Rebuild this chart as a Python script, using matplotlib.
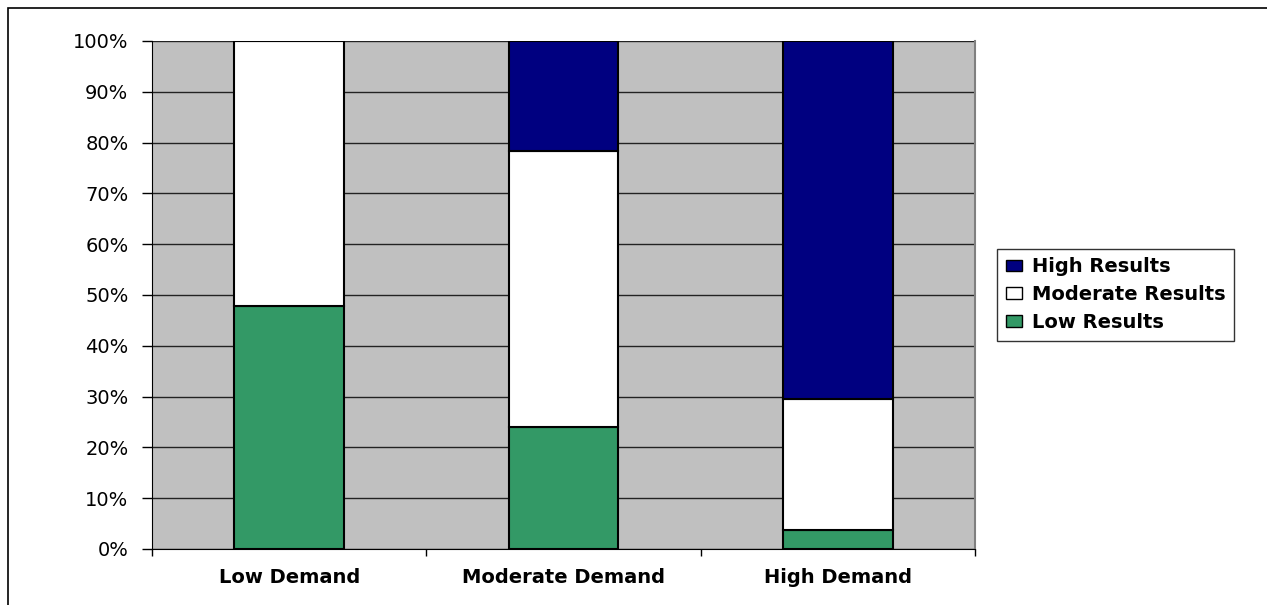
import numpy as np
from matplotlib import pyplot as plt
from matplotlib.patches import Rectangle
from matplotlib.ticker import FixedLocator, PercentFormatter

# Dados (percentual de cada nivel de resultado)
categorias = ['Low Demand', 'Moderate Demand', 'High Demand']
low_results = [47.8, 24.0, 3.7]
moderate_results = [52.2, 54.4, 25.8]
high_results = [0.0, 21.6, 70.5]

cor_low = '#339966'
cor_mod = '#FFFFFF'
cor_high = '#000080'

plt.rcParams['font.family'] = 'DejaVu Sans'

fig = plt.figure(figsize=(12.67, 6.05), dpi=100)
ax = fig.add_axes([152 / 1267, 1 - 549 / 605, (975 - 152) / 1267, (549 - 41) / 605])

x = np.arange(len(categorias))
largura = 0.4
base_mod = np.array(low_results)
base_high = base_mod + np.array(moderate_results)

b1 = ax.bar(x, low_results, largura, color=cor_low, edgecolor='black', linewidth=1.5, zorder=3)
b2 = ax.bar(x, moderate_results, largura, bottom=base_mod, color=cor_mod, edgecolor='black', linewidth=1.5, zorder=3)
b3 = ax.bar(x, high_results, largura, bottom=base_high, color=cor_high, edgecolor='black', linewidth=1.5, zorder=3)

ax.set_facecolor('#C0C0C0')
ax.set_xlim(-0.5, 2.5)
ax.set_ylim(0, 100)
ax.set_yticks(np.arange(0, 101, 10))
ax.yaxis.set_major_formatter(PercentFormatter(decimals=0))
ax.yaxis.grid(True, color='#222222', linewidth=1, zorder=1)
ax.set_axisbelow(True)

ax.set_xticks(x)
ax.set_xticklabels(categorias, fontsize=14, fontweight='bold')
ax.xaxis.set_minor_locator(FixedLocator([-0.5, 0.5, 1.5, 2.5]))
ax.tick_params(axis='x', which='major', length=0, pad=14)
ax.tick_params(axis='x', which='minor', length=5, direction='out', width=1)
ax.tick_params(axis='y', length=7, direction='out', width=1, labelsize=14, pad=10)

ax.spines['top'].set_visible(False)
ax.spines['right'].set_color('#808080')
ax.spines['right'].set_linewidth(1.5)
ax.spines['left'].set_color('black')
ax.spines['bottom'].set_color('black')

# Legenda na ordem High, Moderate, Low
leg = fig.legend([b3, b2, b1], ['High Results', 'Moderate Results', 'Low Results'],
                 loc='center left', bbox_to_anchor=(997 / 1267, 1 - 294.5 / 605),
                 prop={'size': 14, 'weight': 'bold'}, frameon=True, fancybox=False,
                 handlelength=0.85, handleheight=0.55, handletextpad=0.5,
                 labelspacing=0.45, borderpad=0.45, borderaxespad=0)
leg.get_frame().set_edgecolor('black')
leg.get_frame().set_linewidth(1)
for h in leg.legend_handles:
    h.set_linewidth(1)

# Moldura externa (so aparecem lados de cima e da esquerda)
fig.patches.append(Rectangle((8 / 1267, -0.1), 1.2, 1 - 8 / 605 + 0.1, transform=fig.transFigure,
                             fill=False, edgecolor='black', linewidth=1.2))

fig.savefig('out.png', dpi=100)
